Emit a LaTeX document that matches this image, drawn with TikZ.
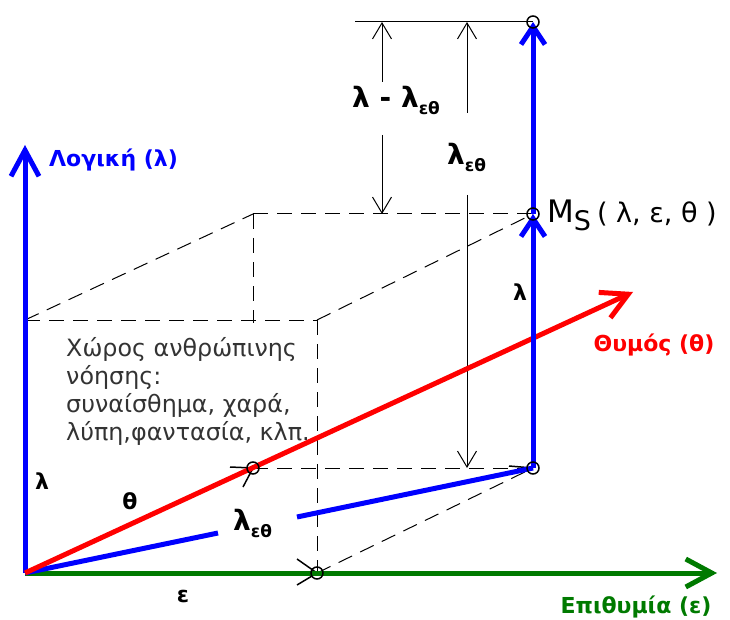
\documentclass[tikz,border=0pt]{standalone}
\usepackage{fontspec}
\setmainfont{DejaVu Sans}
\usetikzlibrary{arrows.meta}
\definecolor{axblue}{RGB}{0,0,255}
\definecolor{axred}{RGB}{255,0,0}
\definecolor{axgreen}{RGB}{0,122,0}
\begin{document}
\begin{tikzpicture}[x=1pt,y=-1pt,
  axis/.style={line width=5pt,-{Straight Barb[length=26pt,width=28pt]}},
  axisshort/.style={line width=5pt,-{Straight Barb[length=18pt,width=24pt]}},
  thin/.style={line width=1pt,black},
  boxdash/.style={line width=1pt,black,dash pattern=on 15pt off 9pt},
  dimtip/.style={-{Straight Barb[length=16pt,width=19pt]}},
  pointmark/.style={circle,draw,line width=1.5pt,minimum size=12pt,inner sep=0pt},
  lab/.style={font=\bfseries\fontsize{22}{22}\selectfont,inner sep=0pt},
  biglam/.style={font=\bfseries\fontsize{28}{28}\selectfont,inner sep=0pt,anchor=base west},
]
\useasboundingbox (0,0) rectangle (730,620);
\newcommand{\subeth}{\raisebox{-7pt}{\fontsize{17}{17}\selectfont\bfseries εθ}}
% key points
\coordinate (O) at (25,573);
\coordinate (FL) at (25,320);
\coordinate (BL) at (253,214);
\coordinate (FR) at (317,320);
\coordinate (BLlow) at (253,323);
\coordinate (Th) at (253,468);
\coordinate (Ep) at (317,573);
\coordinate (P) at (533,468);
\coordinate (M) at (533,214);
\coordinate (Top) at (533,22);
\coordinate (LamEnd) at (25,145);
\coordinate (EpsEnd) at (717,573);
\coordinate (ThEnd) at (633,292);
\coordinate (LeA) at (218,533);
\coordinate (LeB) at (297,517);
\coordinate (DimL) at (355,22);
\coordinate (D1a) at (382,22);
\coordinate (D1b) at (382,82);
\coordinate (D1c) at (382,135);
\coordinate (D1d) at (382,214);
\coordinate (D2a) at (467,22);
\coordinate (D2b) at (467,113);
\coordinate (D2c) at (467,195);
\coordinate (D2d) at (467,468);

% dashed box
\draw[boxdash] (FL) -- (FR);
\draw[boxdash] (FL) -- (BL);
\draw[boxdash] (BL) -- (M);
\draw[boxdash] (BL) -- (BLlow);
\draw[boxdash] (FR) -- (M);
\draw[boxdash] (FR) -- (Ep);
\draw[boxdash] (Th) -- (P);
\draw[boxdash] (Ep) -- (P);

% dimension lines
\draw[thin] (DimL) -- (Top);
\draw[thin,dimtip] (D1b) -- (D1a);
\draw[thin,dimtip] (D1c) -- (D1d);
\draw[thin,dimtip] (D2b) -- (D2a);
\draw[thin,dimtip] (D2c) -- (D2d);

% projection marks
\draw[line width=1.5pt] (Th) -- ++(-23,-1);
\draw[line width=1.5pt] (Th) -- ++(-10,19);
\draw[line width=1.5pt] (Ep) -- ++(-20,-14);
\draw[line width=1.5pt] (Ep) -- ++(-20,12);
\draw[line width=1.5pt] (P) -- ++(-24,-2);

% axes
\draw[axis,axgreen] (O) -- (EpsEnd);
\draw[axis,axblue] (O) -- (LamEnd);
\draw[line width=5pt,axblue] (O) -- (LeA);
\draw[line width=5pt,axblue] (LeB) -- (P);
\draw[axis,axred] (O) -- (ThEnd);
\draw[axisshort,axblue] (P) -- (M);
\draw[axisshort,axblue] (M) -- (Top);

% point circles
\node[pointmark] (cTh) at (Th) {};
\node[pointmark] (cEp) at (Ep) {};
\node[pointmark] (cP) at (P) {};
\node[pointmark] (cM) at (M) {};
\node[pointmark] (cTop) at (Top) {};

% labels
\node[lab,text=axblue,anchor=west] (tLog) at (49,160) {Λογική (λ)};
\node[lab,text=axred] (tThy) at (654,345) {Θυμός (θ)};
\node[lab,text=axgreen] (tEpi) at (636,607) {Επιθυμία (ε)};
\node[lab] (tl1) at (42,481) {λ};
\node[lab] (tth) at (130,501) {θ};
\node[lab] (teps) at (183,596) {ε};
\node[lab] (tl2) at (520,292) {λ};
\node[biglam] (tle) at (233,530) {λ\subeth};
\node[biglam] (tdiff) at (352,108) {λ - λ\subeth};
\node[biglam] (tle2) at (447,165) {λ\subeth};
\node[anchor=base west,inner sep=0pt] (tMs) at (547,223)
  {\fontsize{31}{31}\selectfont M\raisebox{-8pt}{\fontsize{27}{27}\selectfont S}\hspace{6pt}\fontsize{27}{27}\selectfont( λ, ε, θ )};
\node[anchor=north west,align=left,inner sep=0pt,text=black!80,
  font=\fontsize{23.8}{28}\selectfont] (tSpace) at (66,337)
  {Χώρος ανθρώπινης\\νόησης:\\συναίσθημα, χαρά,\\λύπη,φαντασία, κλπ.};
\end{tikzpicture}
\end{document}
